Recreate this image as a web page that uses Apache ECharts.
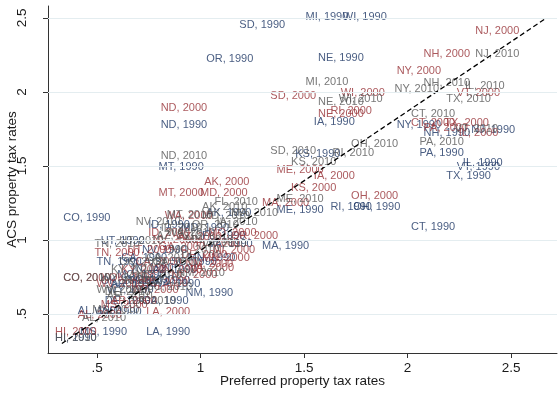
<!DOCTYPE html>
<html><head><meta charset="utf-8">
<script src="https://cdn.jsdelivr.net/npm/echarts@6/dist/echarts.min.js"></script>
<style>html,body{margin:0;padding:0;background:#fff}#c{width:559px;height:393px}</style>
</head><body><div id="c"></div>
<script>
const states1990 = ['MI','WI','SD','OR','NE','ND','MT','CO','IA','NY','NH','NJ','PA','IL','VT','TX','CT','RI','OH','ME','MA','NM','DE','GA','WV','AL','MS','LA','HI','UT','TN','KS','ID','KY','MN','VA','AK','AZ','AR','CA','FL','IN','MD','MO','NV','NC','OK','SC','WA','WY'];
const x1990 = [1.50,1.68,1.18,1.02,1.56,0.80,0.79,0.33,1.54,1.94,2.07,2.30,2.05,2.26,2.23,2.18,2.01,1.62,1.73,1.36,1.29,0.92,0.53,0.71,0.48,0.40,0.41,0.73,0.29,0.51,0.49,1.45,0.74,0.73,0.93,1.03,1.02,0.76,0.56,0.61,1.00,0.66,0.90,0.59,0.71,0.64,0.51,0.85,0.76,0.54];
const y1990 = [2.51,2.51,2.45,2.22,2.23,1.78,1.49,1.15,1.80,1.78,1.72,1.74,1.59,1.52,1.49,1.43,1.09,1.22,1.22,1.20,0.96,0.64,0.59,0.59,0.51,0.52,0.38,0.38,0.34,0.99,0.85,1.58,1.10,0.72,0.88,0.97,1.18,0.80,0.70,0.88,1.03,0.81,1.08,0.76,0.93,0.73,0.72,0.85,0.70,0.66];

const states2000 = ['NJ','NH','NY','WI','SD','VT','ND','NE','RI','CT','PA','TX','IL','AK','MT','MD','KS','IA','ME','OH','MA','WA','ID','MO','GA','FL','NM','TN','CO','AL','LA','HI','AZ','AR','CA','DE','IN','KY','MI','MN','MS','NV','NC','OK','OR','SC','UT','VA','WV','WY'];
const x2000 = [2.32,2.07,1.94,1.67,1.33,2.23,0.80,1.56,1.62,2.01,2.07,2.17,2.24,1.01,0.79,0.99,1.43,1.54,1.36,1.72,1.29,0.82,0.74,1.03,0.79,0.97,0.92,0.48,0.33,0.40,0.73,0.29,0.88,0.56,0.68,0.90,0.80,0.61,1.05,1.00,0.51,0.76,0.85,0.55,1.14,0.71,0.64,0.94,0.49,0.66];
const y2000 = [2.41,2.26,2.14,1.99,1.97,1.99,1.89,1.85,1.87,1.79,1.76,1.79,1.72,1.39,1.32,1.32,1.35,1.43,1.47,1.30,1.25,1.16,1.05,1.05,0.95,0.98,0.84,0.91,0.74,0.49,0.51,0.38,1.02,0.59,0.85,0.90,0.80,0.80,0.93,0.88,0.56,1.00,0.76,0.74,1.03,0.71,0.93,0.81,0.70,0.66];

const states2010 = ['NJ','MI','NY','NH','IL','TX','NE','WI','CT','PA','OH','SD','RI','KS','ME','FL','AK','NV','TN','CO','WV','DE','HI','MD','UT','ND','VT','AL','AZ','AR','CA','GA','ID','IN','IA','KY','LA','MA','MN','MS','MO','MT','NM','NC','OK','OR','SC','VA','WA','WY'];
const x2010 = [2.32,1.50,1.93,2.07,2.27,2.18,1.56,1.66,2.01,2.05,1.72,1.33,1.63,1.43,1.36,1.06,1.00,0.68,0.48,0.33,0.49,0.53,0.29,1.00,0.60,0.80,2.22,0.42,0.78,0.54,0.73,0.76,0.80,0.61,1.07,0.56,0.66,1.14,0.92,0.47,0.85,0.83,0.88,0.68,0.60,0.95,0.73,1.00,0.83,0.51];
const y2010 = [2.26,2.07,2.02,2.06,2.04,1.95,1.93,1.95,1.85,1.66,1.65,1.60,1.59,1.53,1.28,1.26,1.22,1.12,0.97,0.74,0.66,0.65,0.34,1.16,0.99,1.57,1.75,0.47,1.03,0.62,0.88,0.85,1.08,0.72,1.12,0.80,0.59,1.18,1.00,0.53,0.93,1.17,0.78,0.76,0.85,1.10,0.68,0.97,1.05,0.74];

const years = ['1990','2000','2010'];
const tickValues = [0.5, 1, 1.5, 2, 2.5];
const tickLabels = ['.5', '1', '1.5', '2', '2.5'];
const fitLine = [[0.33, 0.30], [2.66, 2.49]];

const colors = ['#1c3563', '#962f35', '#555555'];
const FONT = 'Liberation Sans';

function pts(st, xs, ys, yr) {
  return st.map((s, i) => ({ name: s + ', ' + yr, value: [xs[i], ys[i]] }));
}
const sets = [pts(states1990, x1990, y1990, years[0]), pts(states2000, x2000, y2000, years[1]), pts(states2010, x2010, y2010, years[2])];

const chart = echarts.init(document.getElementById('c'), null, { renderer: 'canvas' });
const fmt = v => { const i = tickValues.findIndex(t => Math.abs(t - v) < 1e-6); return i >= 0 ? tickLabels[i] : ''; };

const series = [{
  type: 'line', data: [], silent: true,
  markLine: {
    silent: true, symbol: 'none', label: { show: false },
    lineStyle: { color: '#e4edf0', type: 'solid', width: 1 },
    data: tickValues.map(v => ({ yAxis: v })), animation: false
  }, z: 1
}];
sets.forEach((d, k) => series.push({
  type: 'scatter', data: d, symbolSize: 1, itemStyle: { color: 'rgba(0,0,0,0)' },
  label: { show: true, position: 'right', distance: 1, formatter: p => p.name, color: colors[k], fontSize: 11, fontFamily: FONT },
  z: 3, animation: false
}));
series.push({
  type: 'line', data: fitLine, symbol: 'none', silent: true,
  lineStyle: { color: '#000', type: [5, 3], width: 1.3 }, z: 4, animation: false
});

chart.setOption({
  animation: false,
  grid: { left: 48, right: 2, top: 6, bottom: 40, outerBoundsMode: 'none', containLabel: false },
  xAxis: {
    type: 'value', min: 0.263, max: 2.722,
    name: 'Preferred property tax rates', nameLocation: 'middle', nameGap: 21, nameMoveOverlap: false,
    nameTextStyle: { fontSize: 13.5, color: '#1a1a1a', fontFamily: FONT },
    axisLine: { show: true, lineStyle: { color: '#333', width: 1 } },
    axisTick: { show: true, length: 5, lineStyle: { color: '#333' }, customValues: tickValues },
    axisLabel: { fontSize: 13.5, color: '#1a1a1a', fontFamily: FONT, margin: 8, formatter: fmt, customValues: tickValues },
    splitLine: { show: false }
  },
  yAxis: {
    type: 'value', min: 0.236, max: 2.581,
    name: 'ACS property tax rates', nameLocation: 'middle', nameGap: 29, nameMoveOverlap: false,
    nameTextStyle: { fontSize: 13.5, color: '#1a1a1a', fontFamily: FONT },
    axisLine: { show: true, lineStyle: { color: '#333', width: 1 } },
    axisTick: { show: true, length: 5, lineStyle: { color: '#333' }, customValues: tickValues },
    axisLabel: { fontSize: 13.5, color: '#1a1a1a', fontFamily: FONT, margin: 19, rotate: 90, formatter: fmt, customValues: tickValues },
    splitLine: { show: false }
  },
  series: series
});
</script></body></html>
